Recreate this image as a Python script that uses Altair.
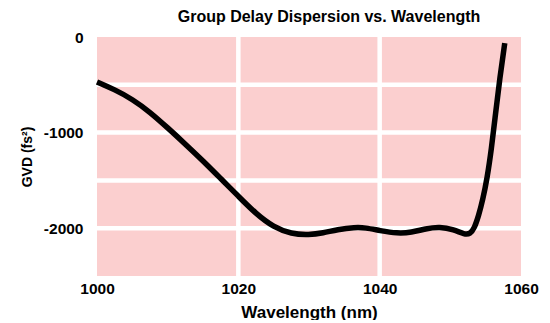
import altair as alt
import pandas as pd

wavelength = [1000, 1002.5, 1005, 1007.5, 1010, 1012.5, 1015, 1017.5, 1020, 1022.5,
              1025, 1027.5, 1030, 1032, 1034, 1036.5, 1038,
              1040, 1042.5, 1044.5, 1046.5, 1048.5, 1050.5, 1052, 1052.8, 1053.4,
              1054, 1054.6, 1055.2, 1055.8, 1056.4, 1057, 1057.7]
gvd = [-470, -550, -650, -785, -950, -1120, -1295, -1480, -1665, -1850,
       -1990, -2060, -2070, -2050, -2015, -1990, -1995,
       -2025, -2055, -2045, -2005, -1985, -2015, -2065, -2060, -2000,
       -1870, -1700, -1480, -1180, -800, -430, -65]

x_ticks = [1000, 1020, 1040, 1060]
y_ticks = [0, -1000, -2000]
x_grid = [1020, 1040]
y_grid = [-500, -1000, -1500, -2000]

df = pd.DataFrame({"wavelength": wavelength, "gvd": gvd})
gx = pd.DataFrame({"v": x_grid})
gy = pd.DataFrame({"v": y_grid})

FONT = "Liberation Sans"

xscale = alt.Scale(domain=[1000, 1060], nice=False, zero=False)
yscale = alt.Scale(domain=[-2500, 0], nice=False)

line = alt.Chart(df).mark_line(color="black", strokeWidth=5.5, interpolate="basis").encode(
    x=alt.X("wavelength:Q", scale=xscale,
            axis=alt.Axis(values=x_ticks, grid=False, ticks=False, domain=False,
                          labelExpr="'' + datum.value", labelFlush=False,
                          labelPadding=5, labelFontSize=15.5,
                          labelFontWeight="bold", labelFont=FONT, labelColor="black",
                          title="Wavelength (nm)", titleFontSize=17, titleFont=FONT,
                          titleFontWeight="bold", titleColor="black", titleY=28,
                          titleBaseline="top")),
    y=alt.Y("gvd:Q", scale=yscale,
            axis=alt.Axis(values=y_ticks, grid=False, ticks=False, domain=False,
                          labelExpr="'' + datum.value",
                          labelPadding=14, labelFontSize=15.5,
                          labelFontWeight="bold", labelFont=FONT, labelColor="black",
                          title="GVD (fs²)", titleFontSize=14, titleFont=FONT,
                          titleFontWeight="bold", titleColor="black",
                          titleX=-63, titleY=119.5)),
)

vgrid = alt.Chart(gx).mark_rule(color="white", strokeWidth=4.5).encode(
    x=alt.X("v:Q", scale=xscale)
)
hgrid = alt.Chart(gy).mark_rule(color="white", strokeWidth=4.5).encode(
    y=alt.Y("v:Q", scale=yscale)
)

chart = alt.layer(vgrid, hgrid, line).properties(
    width=424, height=239,
    title=alt.TitleParams("Group Delay Dispersion vs. Wavelength", fontSize=16,
                          font=FONT, fontWeight="bold", color="black", dx=20, offset=5),
    autosize=alt.AutoSizeParams(type="none"),
    padding={"left": 89, "top": 29, "right": 21, "bottom": 44},
    background="white",
).configure_view(fill="#fbcfcf", stroke=None)

chart.save("out.html", embed_options={"renderer": "svg", "actions": False})
